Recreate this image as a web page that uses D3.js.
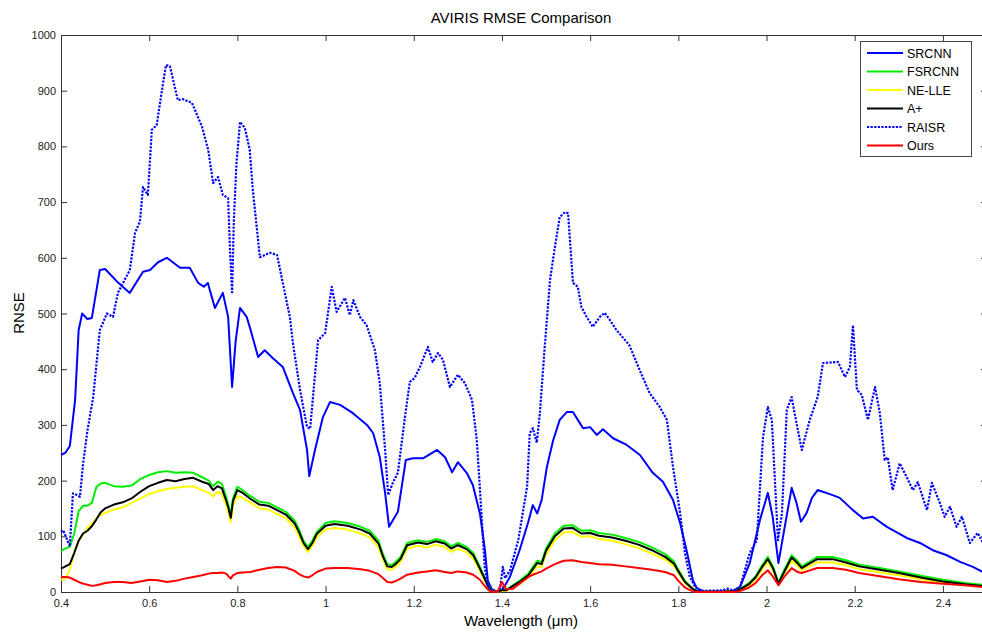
<!DOCTYPE html>
<html>
<head>
<meta charset="utf-8">
<script src="https://cdn.jsdelivr.net/npm/d3@7"></script>
<style>
  body { margin: 0; background: #fff; }
  svg { display: block; font-family: "Liberation Sans", Arial, sans-serif; }
</style>
</head>
<body>
<svg id="chart" width="982" height="633"></svg>
<script>
// series names + colours (legend order)
const seriesNames = ["SRCNN", "FSRCNN", "NE-LLE", "A+", "RAISR", "Ours"];
const seriesColors = ["#0000ff", "#00ee00", "#ffff00", "#000000", "#0000ff", "#ff0000"];

const xTicks = [0.4, 0.6, 0.8, 1, 1.2, 1.4, 1.6, 1.8, 2, 2.2, 2.4];
const yTicks = [0, 100, 200, 300, 400, 500, 600, 700, 800, 900, 1000];

// SRCNN
const srcnnWl = [0.40,0.41,0.42,0.432,0.44,0.448,0.46,0.47,0.488,0.50,0.53,0.556,0.586,0.602,0.62,0.64,0.67,0.692,0.711,0.724,0.733,0.749,0.767,0.779,0.788,0.796,0.806,0.821,0.828,0.847,0.862,0.88,0.903,0.926,0.942,0.958,0.963,0.976,0.994,1.01,1.033,1.062,1.094,1.108,1.123,1.135,1.144,1.164,1.182,1.198,1.221,1.253,1.271,1.287,1.30,1.32,1.334,1.35,1.361,1.368,1.377,1.39,1.402,1.418,1.44,1.459,1.47,1.48,1.49,1.502,1.516,1.531,1.547,1.561,1.572,1.584,1.60,1.615,1.629,1.652,1.683,1.713,1.742,1.765,1.788,1.804,1.82,1.833,1.842,1.86,1.92,1.94,1.962,1.985,2.003,2.014,2.027,2.04,2.057,2.068,2.078,2.091,2.103,2.116,2.15,2.166,2.196,2.219,2.241,2.273,2.318,2.348,2.377,2.409,2.439,2.468,2.50];
const srcnnVal = [246,250,262,345,470,500,490,492,578,580,555,537,575,578,592,600,582,582,555,548,555,510,537,494,368,450,510,494,476,422,434,420,404,357,327,255,208,255,314,341,336,321,300,285,242,178,117,144,237,240,240,255,242,215,233,214,192,141,78,20,5,0,5,27,75,124,156,141,165,225,272,309,323,323,309,294,296,282,292,276,264,246,214,198,165,124,70,21,7,0,0,9,52,129,178,135,52,111,187,160,126,142,169,183,174,169,147,132,135,117,97,88,75,66,54,45,32];

// RAISR (dotted)
const raisrWl = [0.40,0.405,0.42,0.427,0.436,0.443,0.45,0.46,0.473,0.488,0.504,0.518,0.529,0.556,0.568,0.579,0.586,0.597,0.606,0.617,0.629,0.638,0.647,0.665,0.676,0.697,0.72,0.734,0.745,0.756,0.767,0.779,0.783,0.788,0.792,0.798,0.806,0.817,0.828,0.835,0.851,0.874,0.89,0.903,0.919,0.926,0.942,0.958,0.965,0.983,0.999,1.014,1.025,1.044,1.055,1.063,1.078,1.093,1.112,1.123,1.135,1.142,1.153,1.164,1.18,1.191,1.202,1.214,1.232,1.243,1.255,1.266,1.282,1.30,1.316,1.332,1.343,1.354,1.361,1.368,1.38,1.395,1.402,1.407,1.418,1.437,1.457,1.463,1.47,1.479,1.486,1.497,1.509,1.52,1.531,1.543,1.55,1.561,1.572,1.58,1.592,1.606,1.622,1.633,1.645,1.66,1.673,1.689,1.712,1.735,1.758,1.774,1.788,1.804,1.815,1.826,1.838,1.85,1.90,1.91,1.925,1.94,1.962,1.978,1.992,2.003,2.012,2.019,2.026,2.035,2.046,2.057,2.068,2.08,2.098,2.116,2.128,2.162,2.178,2.189,2.196,2.205,2.216,2.23,2.246,2.257,2.268,2.275,2.286,2.302,2.318,2.332,2.343,2.364,2.375,2.393,2.404,2.416,2.431,2.443,2.461,2.479,2.50];
const raisrVal = [108,111,82,177,174,171,230,290,350,470,500,494,537,578,645,665,727,713,830,838,901,946,944,883,885,878,835,793,734,745,713,707,619,538,668,770,844,833,794,722,601,609,605,555,494,447,363,296,293,452,465,548,503,528,497,524,494,479,434,375,255,174,197,214,314,377,384,404,440,413,429,417,368,390,375,345,273,135,45,9,0,2,45,25,38,93,189,285,294,268,321,440,560,619,673,682,680,555,548,512,494,476,494,501,488,470,458,443,399,357,332,309,224,142,70,27,9,2,3,6,3,9,70,93,278,332,309,201,93,142,327,350,303,255,309,350,411,413,386,404,479,363,354,309,368,321,237,242,183,231,206,183,197,147,196,160,135,153,117,135,88,106,75];

// shared wavelengths for the four low curves
const lowWl = [0.40,0.41,0.42,0.43,0.44,0.45,0.46,0.47,0.48,0.49,0.50,0.52,0.54,0.56,0.58,0.60,0.62,0.64,0.66,0.68,0.70,0.72,0.735,0.745,0.755,0.765,0.775,0.78,0.785,0.79,0.80,0.81,0.83,0.85,0.87,0.89,0.91,0.93,0.94,0.95,0.96,0.97,0.98,1.00,1.02,1.05,1.08,1.10,1.12,1.13,1.14,1.15,1.16,1.17,1.185,1.21,1.23,1.25,1.27,1.285,1.30,1.32,1.335,1.35,1.36,1.37,1.38,1.39,1.40,1.41,1.425,1.44,1.46,1.47,1.48,1.49,1.50,1.52,1.54,1.56,1.58,1.60,1.62,1.65,1.68,1.71,1.74,1.77,1.79,1.80,1.815,1.83,1.84,1.85,1.90,1.93,1.945,1.96,1.975,1.99,2.003,2.015,2.027,2.04,2.057,2.07,2.08,2.095,2.115,2.15,2.18,2.21,2.25,2.30,2.35,2.40,2.45,2.50];
const fsrcnnVal = [74,78,81,105,145,155,155,160,188,195,196,190,189,191,203,210,215,217,214,215,214,206,200,190,198,194,170,155,138,168,189,184,172,162,160,152,144,128,112,92,81,92,108,124,127,124,117,110,92,68,50,48,55,63,88,93,90,95,91,82,88,81,70,45,27,9,1,1,3,4,12,20,33,45,56,54,78,105,119,120,110,111,106,103,97,90,80,68,55,40,20,8,2,1,1,2,8,16,28,48,63,45,17,39,66,56,46,53,63,63,57,49,44,37,29,22,16,12];
const aplusVal = [42,46,50,70,92,105,110,118,130,143,150,157,161,168,180,190,196,201,199,203,205,198,194,183,190,186,163,150,133,163,183,179,167,157,155,147,139,123,107,88,77,88,104,119,122,119,112,105,87,64,46,45,51,59,84,89,86,91,87,78,84,77,66,42,25,8,1,1,3,3,11,18,30,41,52,50,74,100,114,115,105,106,101,98,92,85,75,63,51,37,18,7,2,1,1,2,7,14,26,45,59,42,15,36,62,52,43,50,59,59,53,46,41,34,26,19,14,10];
const nelleVal = [22,24,40,72,92,103,115,122,132,138,142,148,152,160,168,176,181,185,187,189,190,183,178,172,180,176,155,140,125,155,172,170,160,150,148,140,132,116,100,83,72,83,98,112,115,112,105,98,80,58,41,40,46,54,78,83,80,85,81,72,78,71,60,38,22,6,1,1,2,2,9,15,26,36,46,45,68,93,107,108,99,100,95,92,86,79,69,58,47,34,16,6,2,1,1,2,6,12,22,40,53,38,13,32,56,47,39,45,53,53,48,41,36,30,23,17,12,9];
const oursVal = [27,27,26,22,18,15,13,11,12,14,16,18,18,16,19,22,21,18,20,24,27,30,33,34,34,35,33,28,24,30,34,35,36,40,43,45,44,38,32,28,26,30,36,42,43,43,41,38,32,25,18,17,20,24,31,35,37,39,36,34,37,35,31,22,12,3,0,0,18,5,6,15,27,31,34,37,42,50,56,57,54,52,50,49,46,43,40,36,30,20,8,2,0,0,0,0,3,8,16,30,39,27,12,27,43,36,34,38,43,43,40,34,29,23,18,15,12,8];

const series = [
  { name: seriesNames[0], wl: srcnnWl, val: srcnnVal, dash: null },
  { name: seriesNames[1], wl: lowWl, val: fsrcnnVal, dash: null },
  { name: seriesNames[2], wl: lowWl, val: nelleVal, dash: null },
  { name: seriesNames[3], wl: lowWl, val: aplusVal, dash: null },
  { name: seriesNames[4], wl: raisrWl, val: raisrVal, dash: "2.2,1.4" },
  { name: seriesNames[5], wl: lowWl, val: oursVal, dash: null }
];

const svg = d3.select('#chart');
const plotLeft = 61, plotRight = 987, plotTop = 35, plotBottom = 592;

const x = d3.scaleLinear().domain([0.4, 2.5]).range([plotLeft, plotRight]);
const y = d3.scaleLinear().domain([0, 1000]).range([plotBottom, plotTop]);

// axes box (MATLAB style, ticks pointing in)
const axisColor = '#333';
const fmt = d => String(+d.toFixed(1));

svg.append('g')
  .attr('transform', `translate(0,${plotBottom})`)
  .call(d3.axisBottom(x).tickValues(xTicks).tickSize(-6).tickPadding(7).tickFormat(fmt));
svg.append('g')
  .attr('transform', `translate(0,${plotTop})`)
  .call(d3.axisTop(x).tickValues(xTicks).tickSize(-6).tickFormat(''));
svg.append('g')
  .attr('transform', `translate(${plotLeft},0)`)
  .call(d3.axisLeft(y).tickValues(yTicks).tickSize(-6).tickPadding(5).tickFormat(d3.format('d')));
svg.append('g')
  .attr('transform', `translate(${plotRight},0)`)
  .call(d3.axisRight(y).tickValues(yTicks).tickSize(-6).tickFormat(''));

svg.selectAll('.domain').attr('stroke', axisColor);
svg.selectAll('.tick line').attr('stroke', axisColor);
svg.selectAll('.tick text').attr('fill', '#222').style('font-size', '11px');

// lines
const line = d3.line().x(d => x(d[0])).y(d => y(d[1]));
series.forEach((s, i) => {
  const pts = s.wl.map((w, j) => [w, s.val[j]]);
  svg.append('path')
    .datum(pts)
    .attr('fill', 'none')
    .attr('stroke', seriesColors[i])
    .attr('stroke-width', s.dash ? 2.2 : 2)
    .attr('stroke-linejoin', 'round')
    .attr('stroke-dasharray', s.dash)
    .attr('d', line);
});

// titles
svg.append('text')
  .attr('x', 521).attr('y', 23)
  .attr('text-anchor', 'middle')
  .style('font-size', '15px')
  .text('AVIRIS RMSE Comparison');
svg.append('text')
  .attr('x', 521).attr('y', 626)
  .attr('text-anchor', 'middle')
  .style('font-size', '15px')
  .text('Wavelength (\u03bcm)');
svg.append('text')
  .attr('transform', 'translate(24,313) rotate(-90)')
  .attr('text-anchor', 'middle')
  .style('font-size', '15px')
  .text('RNSE');

// legend
const lg = svg.append('g');
lg.append('rect')
  .attr('x', 860.5).attr('y', 41.5).attr('width', 111).attr('height', 115)
  .attr('fill', '#fff').attr('stroke', '#444').attr('stroke-width', 1);
series.forEach((s, i) => {
  const ly = 53 + i * 18.5;
  lg.append('line')
    .attr('x1', 867).attr('x2', 903).attr('y1', ly).attr('y2', ly)
    .attr('stroke', seriesColors[i])
    .attr('stroke-width', 2)
    .attr('stroke-dasharray', s.dash);
  lg.append('text')
    .attr('x', 907).attr('y', ly + 4.5)
    .style('font-size', '12.5px')
    .text(s.name);
});
</script>
</body>
</html>
